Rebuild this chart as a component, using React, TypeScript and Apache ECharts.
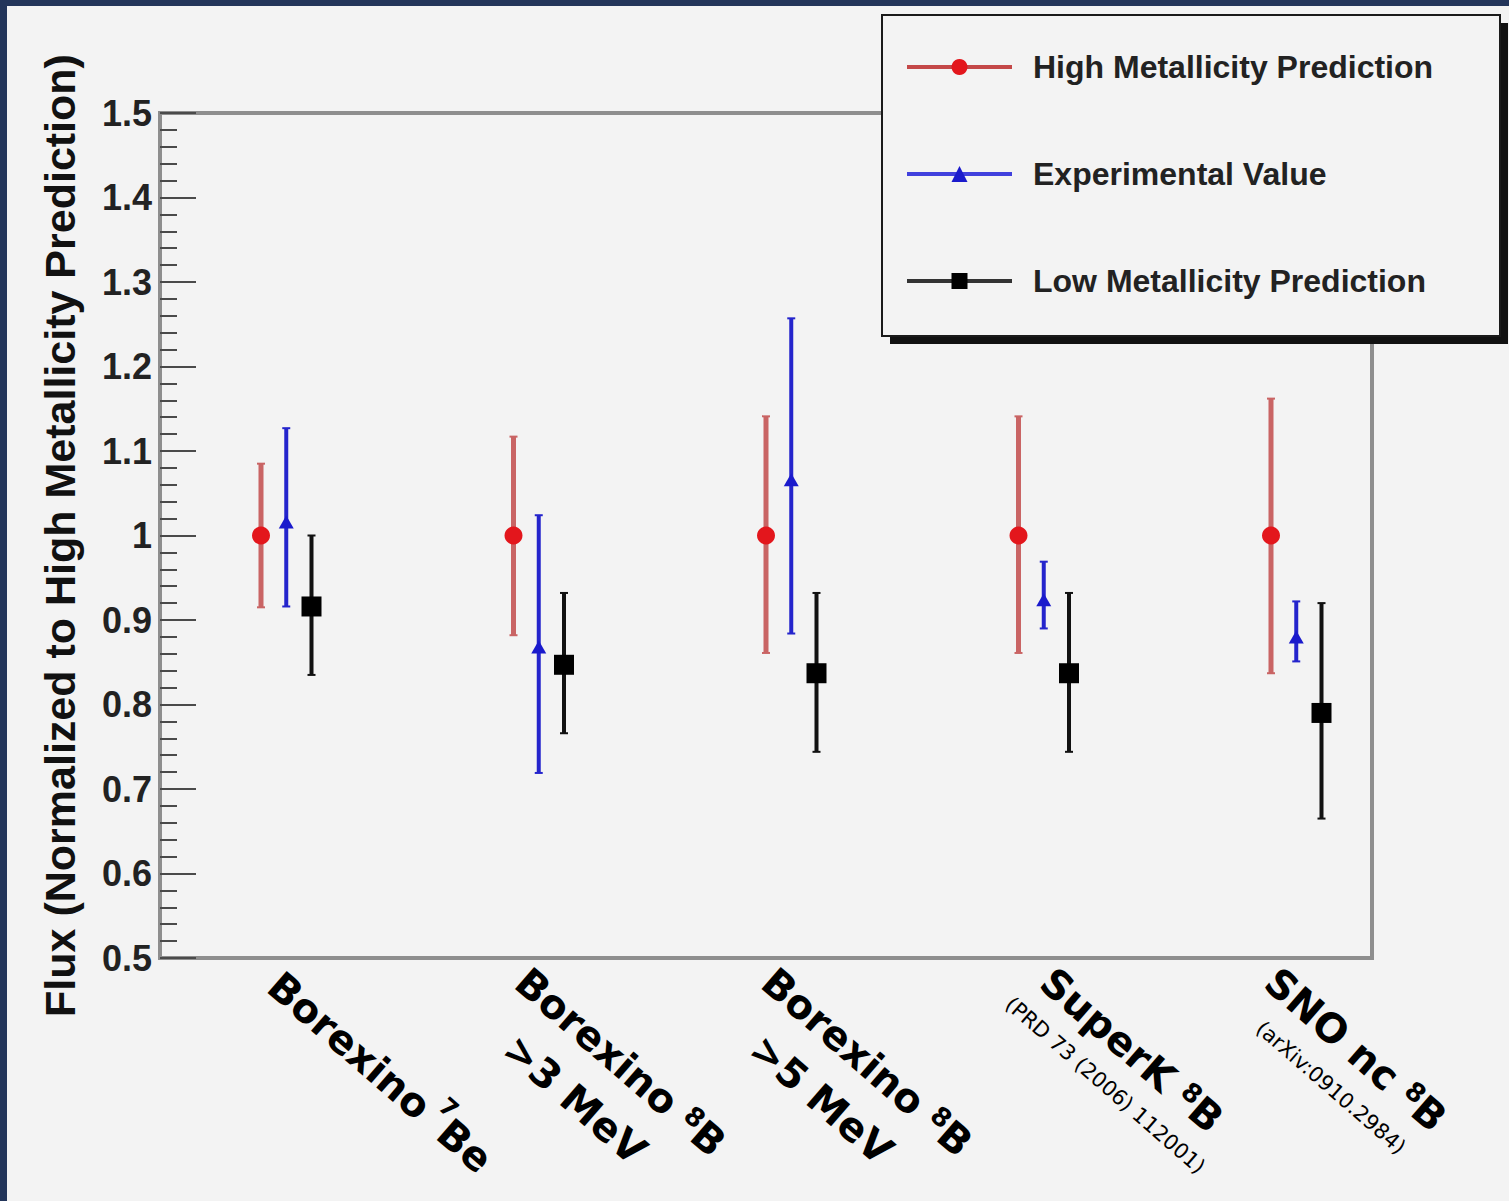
import { useEffect, useRef } from 'react';
import * as echarts from 'echarts';

// ---------- data ----------
const categoryPrefix = ['Borexino', 'Borexino', 'Borexino', 'SuperK', 'SNO nc'];
const isotopeMass = ['7', '8', '8', '8', '8'];
const isotopeSymbol = ['Be', 'B', 'B', 'B', 'B'];
const categorySubLine = ['', '>3 MeV', '>5 MeV', '(PRD 73 (2006) 112001)', '(arXiv:0910.2984)'];

const seriesNames = ['High Metallicity Prediction', 'Experimental Value', 'Low Metallicity Prediction'];

const highCenter = [1.0, 1.0, 1.0, 1.0, 1.0];
const highLow = [0.915, 0.882, 0.861, 0.861, 0.837];
const highHigh = [1.085, 1.117, 1.141, 1.141, 1.162];

const expCenter = [1.016, 0.868, 1.066, 0.924, 0.88];
const expLow = [0.916, 0.719, 0.884, 0.89, 0.851];
const expHigh = [1.127, 1.024, 1.257, 0.969, 0.922];

const lowCenter = [0.916, 0.847, 0.837, 0.837, 0.79];
const lowLow = [0.835, 0.766, 0.744, 0.744, 0.665];
const lowHigh = [1.0, 0.932, 0.932, 0.932, 0.92];

const yMin = 0.5;
const yMax = 1.5;
const yStep = 0.1;
const xMin = 0;
const xMax = 4.8;
const seriesOffsets = [0.4, 0.5, 0.6];

// ---------- layout / style ----------
const W = 1509;
const H = 1201;
const PAGE_BG = '#f3f3f3';
const NAVY = '#23355a';
const MAIN_FONT = 'DejaVu Sans';
const ROOT_FONT = 'Liberation Sans';

const labelStartDx = [13, 8, 2, 28, 0];
const labelStartDy = [22, 18, 18, 18, 18];
const line2Dx = [0, -10, -10, 3, 6];
const line2Dy = [0, 58, 58, 44, 45];
const LABEL_ROT = (-41 * Math.PI) / 180;

function errorBarSeries(name: string, low: number[], high: number[], offset: number, color: string, width: number) {
  return {
    type: 'custom',
    name: name + ' (error)',
    silent: true,
    z: 3,
    data: low.map((l, i) => [i + offset, l, high[i]]),
    encode: { x: 0, y: [1, 2] },
    renderItem: (_params: any, api: any) => {
      const x = api.value(0);
      const lo = api.coord([x, api.value(1)]);
      const hi = api.coord([x, api.value(2)]);
      const cap = 4;
      return {
        type: 'group',
        children: [
          { type: 'line', shape: { x1: lo[0], y1: lo[1], x2: hi[0], y2: hi[1] }, style: { stroke: color, lineWidth: width } },
          { type: 'line', shape: { x1: lo[0] - cap, y1: lo[1], x2: lo[0] + cap, y2: lo[1] }, style: { stroke: color, lineWidth: 2 } },
          { type: 'line', shape: { x1: hi[0] - cap, y1: hi[1], x2: hi[0] + cap, y2: hi[1] }, style: { stroke: color, lineWidth: 2 } },
        ],
      };
    },
  };
}

function pointSeries(name: string, center: number[], offset: number, symbol: string, size: any, color: string) {
  return {
    type: 'line',
    name,
    z: 5,
    data: center.map((v, i) => [i + offset, v]),
    symbol,
    symbolSize: size,
    showSymbol: true,
    itemStyle: { color },
    lineStyle: { width: 0, opacity: 0 },
    emphasis: { disabled: true },
  };
}

export default function App() {
  const ref = useRef<HTMLDivElement>(null);

  useEffect(() => {
    const el = ref.current!;
    const chart = echarts.init(el, null, { renderer: 'svg', width: W, height: H });

    const option: any = {
      animation: false,
      backgroundColor: PAGE_BG,
      grid: {
        left: 160,
        top: 113,
        right: W - 1372,
        bottom: H - 958,
        show: true,
        borderColor: '#8e8e8e',
        borderWidth: 4,
        backgroundColor: 'transparent',
      },
      xAxis: {
        type: 'value',
        min: xMin,
        max: xMax,
        axisLine: { show: false },
        axisTick: { show: false },
        axisLabel: { show: false },
        splitLine: { show: false },
      },
      yAxis: {
        type: 'value',
        min: yMin,
        max: yMax,
        interval: yStep,
        name: 'Flux (Normalized to High Metallicity Prediction)',
        nameLocation: 'middle',
        nameRotate: 90,
        nameGap: 79,
        nameTextStyle: { fontFamily: ROOT_FONT, fontWeight: 'bold', fontSize: 43, color: '#111' },
        axisLine: { show: false },
        axisTick: { show: true, inside: true, length: 36, lineStyle: { color: '#4a4a4a', width: 2 } },
        minorTick: { show: true, splitNumber: 5, length: 17, lineStyle: { color: '#4a4a4a', width: 2 } },
        axisLabel: {
          margin: 8,
          fontFamily: ROOT_FONT,
          fontWeight: 'bold',
          fontSize: 36,
          color: '#222',
          formatter: (v: number) => String(Math.round(v * 10) / 10),
        },
        splitLine: { show: false },
      },
      legend: {
        orient: 'vertical',
        left: 905,
        top: 49,
        padding: 0,
        itemWidth: 105,
        itemHeight: 20,
        itemGap: 71,
        selectedMode: false,
        z: 20,
        data: [
          { name: seriesNames[0], lineStyle: { color: '#c44848', width: 4, opacity: 1 }, itemStyle: { color: '#e3161c' } },
          { name: seriesNames[1], lineStyle: { color: '#4040dd', width: 4, opacity: 1 }, itemStyle: { color: '#1a1acc' } },
          { name: seriesNames[2], lineStyle: { color: '#333333', width: 4, opacity: 1 }, itemStyle: { color: '#000000' } },
        ],
        textStyle: {
          fontFamily: ROOT_FONT,
          fontWeight: 'bold',
          fontSize: 32,
          color: '#222',
          lineHeight: 36,
          padding: [0, 0, 0, 16],
        },
      },
      series: [
        pointSeries(seriesNames[0], highCenter, seriesOffsets[0], 'circle', 18, '#e3161c'),
        pointSeries(seriesNames[1], expCenter, seriesOffsets[1], 'triangle', [15, 13], '#1a1acc'),
        pointSeries(seriesNames[2], lowCenter, seriesOffsets[2], 'rect', 20, '#000000'),
        errorBarSeries(seriesNames[0], highLow, highHigh, seriesOffsets[0], '#c96464', 5),
        errorBarSeries(seriesNames[1], expLow, expHigh, seriesOffsets[1], '#2424cc', 4),
        errorBarSeries(seriesNames[2], lowLow, lowHigh, seriesOffsets[2], '#111111', 4),
      ],
    };

    chart.setOption(option);

    // measure text widths
    const canvas = document.createElement('canvas');
    const ctx = canvas.getContext('2d')!;
    const measure = (text: string, font: string) => {
      ctx.font = font;
      return ctx.measureText(text).width;
    };

    const labelGraphics: any[] = categoryPrefix.map((prefix, i) => {
      const p = chart.convertToPixel({ xAxisIndex: 0, yAxisIndex: 0 }, [i + seriesOffsets[0], yMin]) as number[];
      const isSup = i === 0;
      const mainLH = isSup ? 60 : 40;
      const smallSize = isSup ? 24 : 26;
      const spaceSize = isSup ? 20 : 40;
      const w1 =
        measure(prefix, `bold 40px "${MAIN_FONT}"`) +
        measure(' ', `bold ${spaceSize}px "${MAIN_FONT}"`) +
        measure(isotopeMass[i], `bold ${smallSize}px "${MAIN_FONT}"`) +
        measure(isotopeSymbol[i], `bold 40px "${MAIN_FONT}"`);
      const children: any[] = [
        {
          type: 'text',
          x: 0,
          y: 0,
          style: {
            text: `{m|${prefix}}{sp| }{s|${isotopeMass[i]}}{m|${isotopeSymbol[i]}}`,
            align: 'left',
            verticalAlign: 'middle',
            textAlign: 'left',
            textVerticalAlign: 'middle',
            rich: {
              m: { fontFamily: MAIN_FONT, fontWeight: 'bold', fontSize: 40, lineHeight: mainLH, fill: '#000', verticalAlign: 'middle' },
              sp: { fontFamily: MAIN_FONT, fontWeight: 'bold', fontSize: spaceSize, fill: '#000', verticalAlign: 'middle' },
              s: { fontFamily: MAIN_FONT, fontWeight: 'bold', fontSize: smallSize, fill: '#000', verticalAlign: 'top' },
            },
          },
        },
      ];
      const sub = categorySubLine[i];
      if (sub) {
        const big = sub.charAt(0) === '>';
        children.push({
          type: 'text',
          x: w1 / 2 + line2Dx[i],
          y: line2Dy[i],
          style: {
            text: sub,
            align: 'center',
            verticalAlign: 'middle',
            textAlign: 'center',
            textVerticalAlign: 'middle',
            fontFamily: MAIN_FONT,
            fontWeight: big ? 'bold' : 'normal',
            fontSize: big ? 40 : 21,
            fill: '#000',
          },
        });
      }
      return {
        type: 'group',
        id: 'cat' + i,
        x: p[0] + labelStartDx[i],
        y: p[1] + labelStartDy[i],
        rotation: LABEL_ROT,
        children,
      };
    });

    const graphics: any[] = [
      { type: 'rect', id: 'navyTop', z: 30, shape: { x: 0, y: 0, width: W, height: 6 }, style: { fill: NAVY } },
      { type: 'rect', id: 'navyLeft', z: 30, shape: { x: 0, y: 0, width: 7, height: H }, style: { fill: NAVY } },
      { type: 'rect', id: 'legShadow', z: 10, shape: { x: 890, y: 23, width: 618, height: 321 }, style: { fill: '#111' } },
      {
        type: 'rect',
        id: 'legBox',
        z: 11,
        shape: { x: 882, y: 15, width: 618, height: 321 },
        style: { fill: PAGE_BG, stroke: '#1a1a1a', lineWidth: 2 },
      },
      ...labelGraphics,
    ];

    chart.setOption({ graphic: graphics });

    return () => chart.dispose();
  }, []);

  return <div ref={ref} style={{ position: 'fixed', left: 0, top: 0, width: W, height: H }} />;
}
